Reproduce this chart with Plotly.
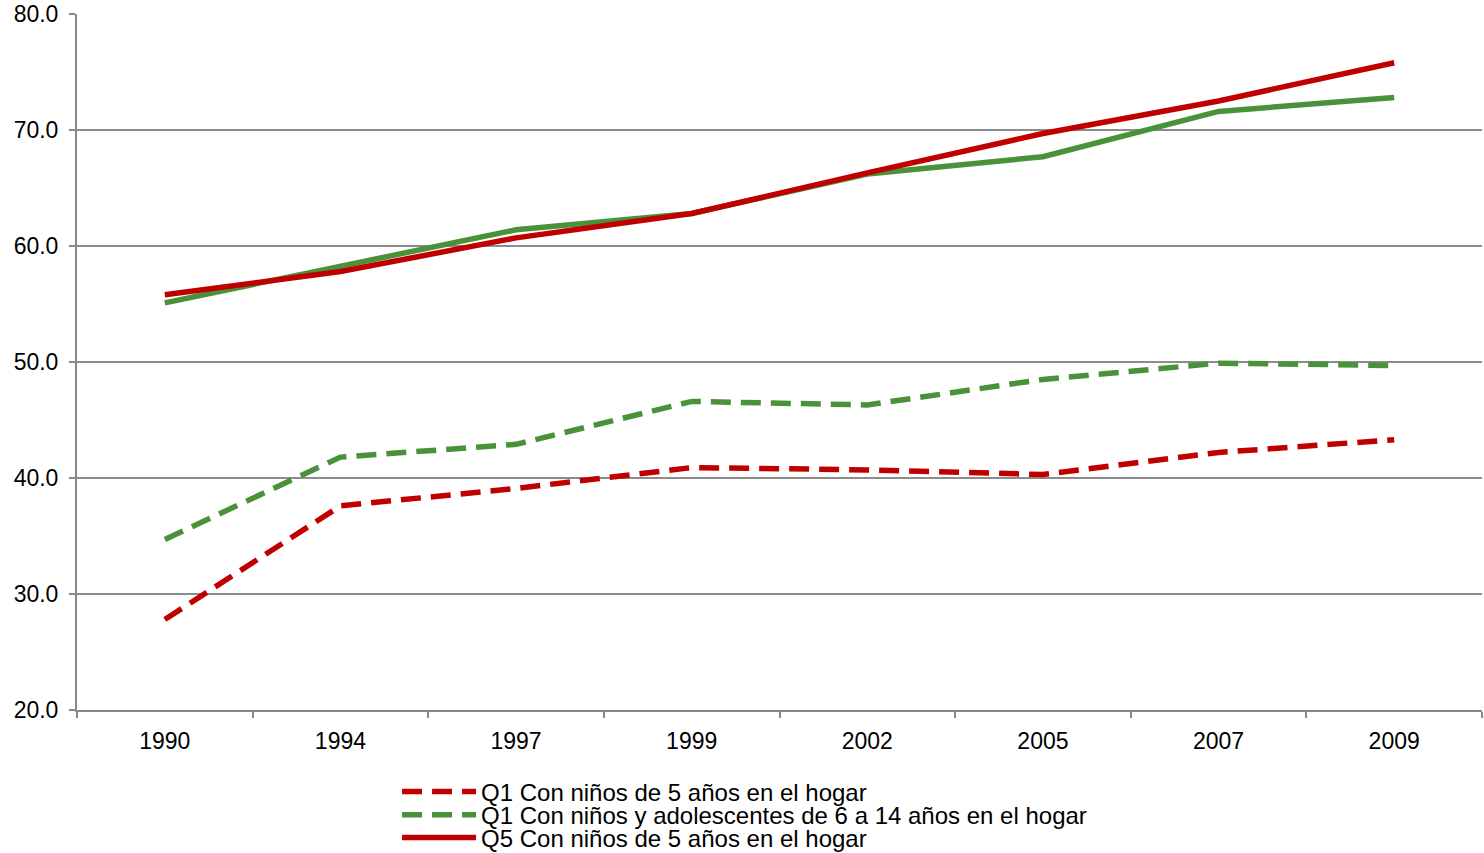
import plotly.graph_objects as go

years = ["1990", "1994", "1997", "1999", "2002", "2005", "2007", "2009"]
q1_5 = [27.8, 37.6, 39.1, 40.9, 40.7, 40.3, 42.2, 43.3]
q1_6_14 = [34.7, 41.8, 42.9, 46.6, 46.3, 48.5, 49.9, 49.7]
q5_5 = [55.8, 57.8, 60.7, 62.8, 66.3, 69.7, 72.5, 75.8]
q5_6_14 = [55.1, 58.3, 61.4, 62.8, 66.2, 67.7, 71.6, 72.8]

RED = "#C00000"
GREEN = "#4A923A"
DASH = "20px,10px"

fig = go.Figure()
fig.add_trace(go.Scatter(x=years, y=q1_5, mode="lines", name="Q1 Con niños de 5 años en el hogar",
                         line=dict(color=RED, width=5.5, dash=DASH), legend="legend"))
fig.add_trace(go.Scatter(x=years, y=q1_6_14, mode="lines", name="Q1 Con niños y adolescentes de 6 a 14 años en el hogar",
                         line=dict(color=GREEN, width=5.5, dash=DASH), legend="legend2"))
fig.add_trace(go.Scatter(x=years, y=q5_6_14, mode="lines", name="Q5 Con niños y adolescentes de 6 a 14 años en el hogar",
                         line=dict(color=GREEN, width=5.5), showlegend=False))
fig.add_trace(go.Scatter(x=years, y=q5_5, mode="lines", name="Q5 Con niños de 5 años en el hogar",
                         line=dict(color=RED, width=5.5), legend="legend3"))

leg = dict(x=0.2278, xanchor="left", yanchor="middle", orientation="v",
           font=dict(size=24), tracegroupgap=0, itemwidth=74,
           bgcolor="rgba(0,0,0,0)", borderwidth=0)

fig.update_layout(
    width=1484, height=853,
    margin=dict(l=77, r=2, t=14, b=143, autoexpand=False),
    paper_bgcolor="white", plot_bgcolor="white",
    font=dict(family="Liberation Sans", size=23, color="#000000"),
    showlegend=True,
    legend=dict(leg, y=-0.1178),
    legend2=dict(leg, y=-0.1509),
    legend3=dict(leg, y=-0.1839),
)
fig.update_xaxes(type="category", range=[-0.5, 7.5], showline=True, linecolor="#888888", linewidth=2,
                 ticks="outside", tickson="boundaries", ticklen=6, tickcolor="#888888", tickwidth=2,
                 showgrid=False, tickfont=dict(size=23), ticklabelstandoff=9, automargin=False)
fig.update_yaxes(range=[20, 80], dtick=10, tickformat=".1f", showline=True, linecolor="#888888", linewidth=2,
                 ticks="outside", ticklen=6, tickcolor="#888888", tickwidth=2,
                 showgrid=True, gridcolor="#8C8C8C", gridwidth=2, zeroline=False,
                 tickfont=dict(size=23), ticklabelstandoff=6, automargin=False)

fig.write_html("out.html", config={"displayModeBar": False},
               post_script="document.body.style.margin='0';document.body.style.overflow='hidden';")
